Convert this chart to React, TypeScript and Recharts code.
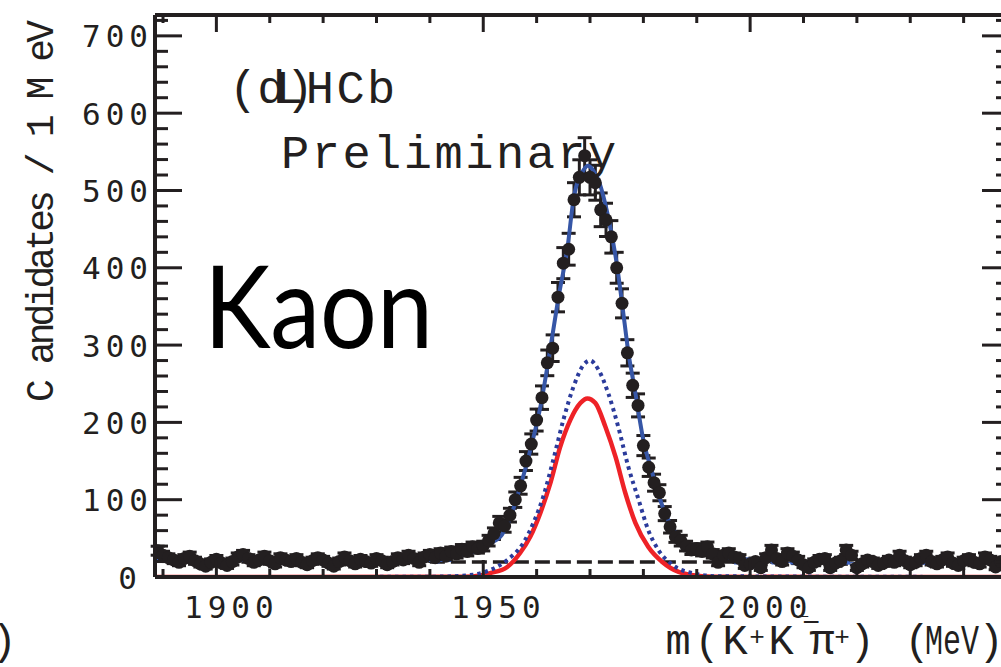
import { ComposedChart, Line, XAxis, YAxis, ErrorBar } from 'recharts';

// bin centres (MeV) and counts per 1 MeV
const massBins = [
  1889, 1890, 1891, 1892, 1893, 1894, 1895, 1896, 1897, 1898,
  1899, 1900, 1901, 1902, 1903, 1904, 1905, 1906, 1907, 1908,
  1909, 1910, 1911, 1912, 1913, 1914, 1915, 1916, 1917, 1918,
  1919, 1920, 1921, 1922, 1923, 1924, 1925, 1926, 1927, 1928,
  1929, 1930, 1931, 1932, 1933, 1934, 1935, 1936, 1937, 1938,
  1939, 1940, 1941, 1942, 1943, 1944, 1945, 1946, 1947, 1948,
  1949, 1950, 1951, 1952, 1953, 1954, 1955, 1956, 1957, 1958,
  1959, 1960, 1961, 1962, 1963, 1964, 1965, 1966, 1967, 1968,
  1969, 1970, 1971, 1972, 1973, 1974, 1975, 1976, 1977, 1978,
  1979, 1980, 1981, 1982, 1983, 1984, 1985, 1986, 1987, 1988,
  1989, 1990, 1991, 1992, 1993, 1994, 1995, 1996, 1997, 1998,
  1999, 2000, 2001, 2002, 2003, 2004, 2005, 2006, 2007, 2008,
  2009, 2010, 2011, 2012, 2013, 2014, 2015, 2016, 2017, 2018,
  2019, 2020, 2021, 2022, 2023, 2024, 2025, 2026, 2027, 2028,
  2029, 2030, 2031, 2032, 2033, 2034, 2035, 2036, 2037, 2038,
  2039, 2040, 2041, 2042, 2043, 2044, 2045, 2046, 2047,
];

const counts = [
  34, 28, 25, 22, 19, 24, 27, 21, 17, 14,
  19, 23, 18, 15, 20, 26, 29, 24, 19, 22,
  27, 21, 17, 25, 22, 20, 24, 19, 16, 21,
  25, 22, 18, 14, 20, 26, 21, 17, 23, 20,
  18, 24, 21, 16, 20, 25, 22, 28, 24, 19,
  26, 29, 25, 31, 27, 33, 30, 36, 33, 39,
  37, 40, 47, 56, 70, 66, 80, 100, 118, 150,
  172, 203, 232, 277, 296, 362, 406, 424, 488, 517,
  545, 517, 510, 475, 462, 440, 400, 354, 290, 248,
  222, 170, 142, 122, 109, 82, 65, 52, 47, 40,
  35, 37, 33, 39, 30, 19, 28, 31, 26, 24,
  15, 17, 20, 12, 25, 35, 24, 20, 31, 27,
  22, 16, 12, 19, 23, 24, 12, 18, 21, 35,
  28, 12, 17, 22, 20, 15, 18, 22, 19, 28,
  21, 16, 19, 24, 28, 20, 17, 22, 26, 18,
  15, 21, 24, 19, 17, 26, 22, 13, 20,
];

const countErrors = [
  5.8, 5.3, 5, 4.7, 4.4, 4.9, 5.2, 4.6, 4.1, 3.7,
  4.4, 4.8, 4.2, 3.9, 4.5, 5.1, 5.4, 4.9, 4.4, 4.7,
  5.2, 4.6, 4.1, 5, 4.7, 4.5, 4.9, 4.4, 4, 4.6,
  5, 4.7, 4.2, 3.7, 4.5, 5.1, 4.6, 4.1, 4.8, 4.5,
  4.2, 4.9, 4.6, 4, 4.5, 5, 4.7, 5.3, 4.9, 4.4,
  5.1, 5.4, 5, 5.6, 5.2, 5.7, 5.5, 6, 5.7, 6.2,
  6.1, 6.3, 6.9, 7.5, 8.4, 8.1, 8.9, 10, 10.9, 12.2,
  13.1, 14.2, 15.2, 16.6, 17.2, 19, 20.1, 20.6, 22.1, 22.7,
  23.3, 22.7, 22.6, 21.8, 21.5, 21, 20, 18.8, 17, 15.7,
  14.9, 13, 11.9, 11, 10.4, 9.1, 8.1, 7.2, 6.9, 6.3,
  5.9, 6.1, 5.7, 6.2, 5.5, 4.4, 5.3, 5.6, 5.1, 4.9,
  3.9, 4.1, 4.5, 3.5, 5, 5.9, 4.9, 4.5, 5.6, 5.2,
  4.7, 4, 3.5, 4.4, 4.8, 4.9, 3.5, 4.2, 4.6, 5.9,
  5.3, 3.5, 4.1, 4.7, 4.5, 3.9, 4.2, 4.7, 4.4, 5.3,
  4.6, 4, 4.4, 4.9, 5.3, 4.5, 4.1, 4.7, 5.1, 4.2,
  3.9, 4.6, 4.9, 4.4, 4.1, 5.1, 4.7, 3.6, 4.5,
];

// total fit (blue solid)
const totalMass = [
  1928, 1934, 1938, 1941, 1944, 1947, 1950, 1952, 1953.2, 1955.1, 1956.9, 1958.8,
  1960.7, 1962.6, 1964.1, 1965.8, 1966.9, 1968.75, 1969.6, 1970.6, 1971.6, 1973.4,
  1975.1, 1976.1, 1977.2, 1978.5, 1980, 1981.7, 1983.6, 1986, 1989.2, 1992, 1994.1,
  1997.3, 2001, 2005,
];
const totalFit = [
  20.5, 21, 22, 24, 27, 31, 37.5, 46, 52, 78, 116, 164,
  220, 297, 362, 427, 488, 526, 532, 526, 513, 466,
  401, 349, 290, 238, 177, 134, 91, 57, 37.5, 30, 26,
  24, 22, 20,
];

// wide signal component (blue dotted)
const dottedMass = [
  1888.5, 1935, 1942, 1948.1, 1951.3, 1954.5, 1957.5, 1959.4, 1961.2, 1963.1, 1965,
  1966.9, 1968.75, 1970, 1971.6, 1973.4, 1975.3, 1977.2, 1979.1, 1980.9, 1982.8,
  1985.4, 1989.2, 1994, 2048.5,
];
const dottedFit = [
  0, 0.2, 0.5, 3, 9, 22, 44, 70, 103, 151, 203,
  246, 274, 280, 268, 238, 194, 142, 100, 61, 35,
  16, 5, 1, 0,
];

// narrow signal component (red)
const redMass = [
  1888.5, 1945, 1948, 1951.3, 1954.5, 1956.9, 1958.8, 1960.7, 1962.6, 1964.4, 1966.3,
  1968.2, 1969.5, 1971, 1972.9, 1974.8, 1976.6, 1978.5, 1980.9, 1983.6, 1986.6,
  1991, 1995, 2048.5,
];
const redFit = [
  0, 0.2, 0.8, 5, 13, 31, 52, 83, 122, 168, 203,
  225, 231, 225, 194, 155, 109, 70, 39, 19, 6.5,
  1, 0.2, 0,
];

// combinatorial background: sideband pieces (thin blue) and signal window (black dashed)
const bgLowMass = [1888.5, 1944];
const bgLowFit = [20.8, 20];
const bgHighMass = [1997, 2048.5];
const bgHighFit = [18.8, 18.3];
const dashMass = [1940, 2000];
const dashFit = [19.5, 19.5];

const xTicks = [1890, 1900, 1910, 1920, 1930, 1940, 1950, 1960, 1970, 1980, 1990, 2000, 2010, 2020, 2030, 2040];
const yTicks = [
  0, 20, 40, 60, 80, 100, 120, 140, 160, 180, 200, 220, 240, 260, 280, 300, 320, 340, 360, 380,
  400, 420, 440, 460, 480, 500, 520, 540, 560, 580, 600, 620, 640, 660, 680, 700, 720,
];

const INK = '#231f20';
const MONO = '"Liberation Mono", "Courier New", monospace';
const TICK = '"DejaVu Sans Mono", monospace';

const pairs = (xs: number[], ys: number[]) => xs.map((m, i) => ({ m, v: ys[i] }));

const points = massBins.map((m, i) => ({ m, v: counts[i], e: countErrors[i] }));

function BottomTick({ x, y, payload }: any) {
  const major = payload.value % 50 === 0;
  return (
    <g>
      <line x1={x} x2={x} y1={y} y2={y - (major ? 17 : 8)} stroke={INK} strokeWidth={3} />
      {major && (
        <text x={x + 15} y={y + 41} textAnchor="middle" fontFamily={TICK} fontSize={31} letterSpacing={5} fill={INK}>
          {payload.value}
        </text>
      )}
    </g>
  );
}

function TopTick({ x, y, payload }: any) {
  const major = payload.value % 50 === 0;
  return <line x1={x} x2={x} y1={y} y2={y + (major ? 17 : 8)} stroke={INK} strokeWidth={3} />;
}

function LeftTick({ x, y, payload }: any) {
  const major = payload.value % 100 === 0;
  return (
    <g>
      <line x1={x} x2={x + (major ? 27 : 13)} y1={y} y2={y} stroke={INK} strokeWidth={3} />
      {major && (
        <text
          x={payload.value === 0 ? x - 13 : x - 2}
          y={y + 11.5}
          textAnchor="end"
          fontFamily={TICK}
          fontSize={31}
          letterSpacing={5}
          fill={INK}
        >
          {payload.value}
        </text>
      )}
    </g>
  );
}

function RightTick({ x, y, payload }: any) {
  const major = payload.value % 100 === 0;
  return <line x1={x} x2={x - (major ? 27 : 13)} y1={y} y2={y} stroke={INK} strokeWidth={3} />;
}

function BgLine({ data }: { data: { m: number; v: number }[] }) {
  return null;
}

export default function App() {
  const axisLine = { stroke: INK, strokeWidth: 4 };
  const bgSeries = [pairs(bgLowMass, bgLowFit), pairs(bgHighMass, bgHighFit)];
  return (
    <div style={{ position: 'fixed', left: 0, top: 0, width: 1001, height: 667, overflow: 'hidden', background: '#fff' }}>
      <ComposedChart width={1030} height={667} margin={{ top: 14, right: 20, bottom: 0, left: 0 }}>
        <XAxis
          dataKey="m"
          type="number"
          domain={[1888.5, 2048.5]}
          allowDataOverflow
          ticks={xTicks}
          interval={0}
          height={90}
          tickSize={0}
          tickMargin={0}
          tickLine={false}
          axisLine={axisLine}
          tick={BottomTick}
        />
        <XAxis
          xAxisId="top"
          orientation="top"
          dataKey="m"
          type="number"
          domain={[1888.5, 2048.5]}
          allowDataOverflow
          ticks={xTicks}
          interval={0}
          height={1}
          tickSize={0}
          tickMargin={0}
          tickLine={false}
          axisLine={axisLine}
          tick={TopTick}
        />
        <YAxis
          type="number"
          domain={[0, 727]}
          allowDataOverflow
          ticks={yTicks}
          interval={0}
          width={155}
          tickSize={0}
          tickMargin={0}
          tickLine={false}
          axisLine={axisLine}
          tick={LeftTick}
        />
        <YAxis
          yAxisId="right"
          orientation="right"
          type="number"
          domain={[0, 727]}
          allowDataOverflow
          ticks={yTicks}
          interval={0}
          width={1}
          tickSize={0}
          tickMargin={0}
          tickLine={false}
          axisLine={axisLine}
          tick={RightTick}
        />

        <Line
          data={pairs(dashMass, dashFit)}
          dataKey="v"
          stroke={INK}
          strokeWidth={3.5}
          strokeDasharray="15 6"
          dot={false}
          activeDot={false}
          isAnimationActive={false}
        />
        <Line
          data={points}
          dataKey="v"
          stroke="none"
          strokeWidth={0}
          dot={{ r: 6.5, fill: INK, stroke: 'none' }}
          activeDot={false}
          isAnimationActive={false}
        >
          <ErrorBar dataKey="e" direction="y" width={7} stroke={INK} strokeWidth={3} />
        </Line>
        <Line
          data={pairs(redMass, redFit)}
          dataKey="v"
          type="monotone"
          stroke="#ee2227"
          strokeWidth={4.5}
          dot={false}
          activeDot={false}
          isAnimationActive={false}
        />
        <Line
          data={pairs(dottedMass, dottedFit)}
          dataKey="v"
          type="monotone"
          stroke="#2b3b9b"
          strokeWidth={4}
          strokeDasharray="3.5 4"
          dot={false}
          activeDot={false}
          isAnimationActive={false}
        />
        <Line
          data={pairs(totalMass, totalFit)}
          dataKey="v"
          type="monotone"
          stroke="#3656a6"
          strokeWidth={4}
          dot={false}
          activeDot={false}
          isAnimationActive={false}
        />
        {bgSeries.map((d, i) => (
          <Line
            key={`bg-thin-${i}`}
            xAxisId="top"
            yAxisId="right"
            data={d}
            dataKey="v"
            stroke="#3656a6"
            strokeWidth={1}
            dot={false}
            activeDot={false}
            isAnimationActive={false}
          />
        ))}
        {bgSeries.map((d, i) => (
          <Line
            key={`bg-dot-${i}`}
            xAxisId="top"
            yAxisId="right"
            data={d}
            dataKey="v"
            stroke="#3d62c0"
            strokeWidth={4}
            strokeDasharray="4 14.7"
            dot={false}
            activeDot={false}
            isAnimationActive={false}
          />
        ))}
      </ComposedChart>

      <svg width={1001} height={667} style={{ position: 'absolute', left: 0, top: 0, pointerEvents: 'none' }}>
        <text
          transform="translate(53,211) rotate(-90)"
          textAnchor="middle"
          fontFamily={MONO}
          fontSize={38}
          textLength={382}
          lengthAdjust="spacing"
          fill={INK}
        >
          C andidates / 1 M eV
        </text>

        <text x={229} y={103} fontFamily={MONO} fontSize={47} fill={INK}>(d)</text>
        <text x={275} y={103} fontFamily={MONO} fontSize={47} letterSpacing={2.5} fill={INK}>LHCb</text>
        <text x={281} y={168} fontFamily={MONO} fontSize={47} letterSpacing={2.5} fill={INK}>Preliminary</text>

        <text
          x={204}
          y={348}
          fontFamily="Lato, 'Open Sans', sans-serif"
          fontSize={114}
          textLength={229}
          lengthAdjust="spacingAndGlyphs"
          fill="#000"
        >
          Kaon
        </text>

        <text x={801} y={611} textAnchor="middle" fontFamily={TICK} fontSize={24} fill={INK}>_</text>
        <text x={811} y={632} textAnchor="middle" fontFamily={MONO} fontSize={30} fill={INK}>−</text>

        <g fontFamily={MONO} fontSize={42} fill={INK} textAnchor="middle">
          <text x={678} y={654}>m</text>
          <text x={707} y={654}>(</text>
          <text x={735} y={654}>K</text>
          <text x={757} y={645} fontSize={26}>+</text>
          <text x={781} y={654}>K</text>
          <text x={822} y={654}>π</text>
          <text x={842} y={645} fontSize={26}>+</text>
          <text x={862} y={654}>)</text>
          <text x={917} y={654}>(</text>
          <text x={952} y={654} textLength={54} lengthAdjust="spacingAndGlyphs">MeV</text>
          <text x={991} y={654}>)</text>
          <text x={4} y={654}>)</text>
        </g>
      </svg>
    </div>
  );
}
